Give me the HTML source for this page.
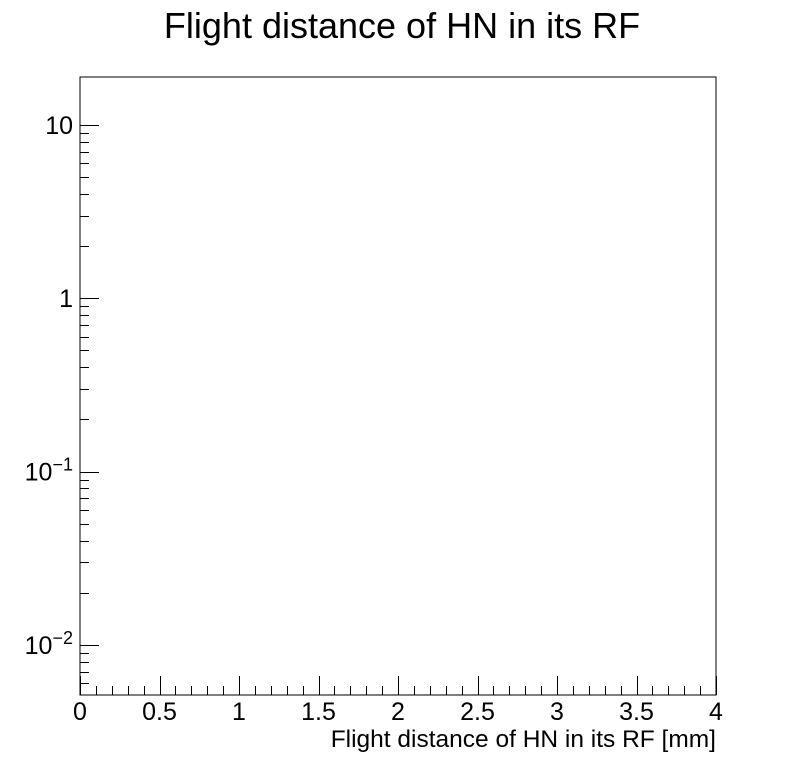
<!DOCTYPE html>
<html><head><meta charset="utf-8"><style>
body{margin:0;background:#fff;}
svg text{font-family:"Liberation Sans",sans-serif;fill:#000;}
</style></head><body>
<svg id="c" width="796" height="772" xmlns="http://www.w3.org/2000/svg">
<rect width="796" height="772" fill="#fff"/>
<text x="402" y="38" font-size="36" text-anchor="middle">Flight distance of HN in its RF</text>
<rect x="80" y="77" width="636" height="618" fill="none" stroke="#000" stroke-width="1"/>
<g id="xa"></g>
<g id="ya"></g>
<text x="716" y="747" font-size="24.5" text-anchor="end">Flight distance of HN in its RF [mm]</text>
</svg>
<script>
const xTicks = [0, 0.5, 1, 1.5, 2, 2.5, 3, 3.5, 4];
const xTickLabels = ["0", "0.5", "1", "1.5", "2", "2.5", "3", "3.5", "4"];
const yDecades = [-2, -1, 0, 1];
const yDecadeLabels = ["10", "10", "1", "10"];
const yDecadeExps = ["\u22122", "\u22121", "", ""];
const xMin = 0, xMax = 4, yLogMin = Math.log10(0.00514), yLogMax = Math.log10(18.9);
const L = 80, R = 716, T = 77, B = 695;
const NS = "http://www.w3.org/2000/svg";
function sx(v){return L + (v - xMin) / (xMax - xMin) * (R - L);}
function sy(v){return B - (Math.log10(v) - yLogMin) / (yLogMax - yLogMin) * (B - T);}
const xa = document.getElementById('xa'), ya = document.getElementById('ya');
function line(g, x1, y1, x2, y2){
  const l = document.createElementNS(NS, 'line');
  l.setAttribute('x1', x1); l.setAttribute('y1', y1); l.setAttribute('x2', x2); l.setAttribute('y2', y2);
  l.setAttribute('stroke', '#000'); l.setAttribute('stroke-width', '1');
  
  
  g.appendChild(l);
}
for (let i = 0; i <= 40; i++) {
  const v = xMin + i * 0.1;
  const x = Math.round(sx(v)) + 0.5;
  line(xa, x, B, x, B - (i % 5 === 0 ? 19 : 9));
}
xTicks.forEach((v, i) => {
  const t = document.createElementNS(NS, 'text');
  t.setAttribute('x', sx(v)); t.setAttribute('y', 720);
  t.setAttribute('font-size', '25'); t.setAttribute('text-anchor', 'middle');
  t.textContent = xTickLabels[i];
  
  
  xa.appendChild(t);
});
for (let d = -3; d <= 1; d++) {
  for (let m = 1; m <= 9; m++) {
    const v = m * Math.pow(10, d);
    const y = sy(v);
    if (y < T || y > B) continue;
    const yy = Math.round(y) + 0.5;
    line(ya, L, yy, L + (m === 1 ? 19 : 9), yy);
  }
}
yDecades.forEach((d, i) => {
  const y = sy(Math.pow(10, d));
  const t = document.createElementNS(NS, 'text');
  t.setAttribute('font-size', '25'); t.setAttribute('text-anchor', 'end');
  t.setAttribute('y', y + 9);
  
  
  if (yDecadeExps[i]) {
    t.setAttribute('x', 73);
    const b = document.createElementNS(NS, 'tspan'); b.textContent = yDecadeLabels[i];
    const e = document.createElementNS(NS, 'tspan'); e.textContent = yDecadeExps[i];
    e.setAttribute('font-size', '18'); e.setAttribute('dy', '-10');
    t.appendChild(b); t.appendChild(e);
  } else {
    t.setAttribute('x', 73);
    t.textContent = yDecadeLabels[i];
  }
  ya.appendChild(t);
});
</script>
</body></html>
